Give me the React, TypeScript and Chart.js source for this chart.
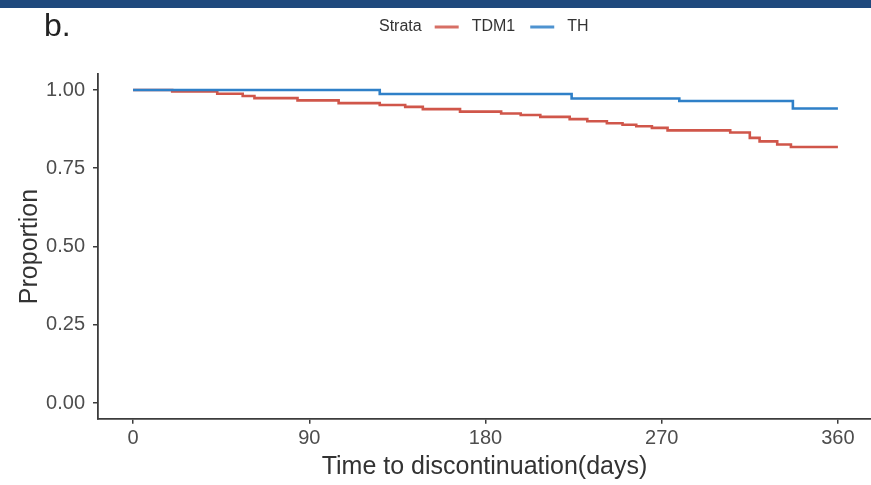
import React, { useEffect, useRef } from "react";
import { Chart, registerables } from "chart.js";

Chart.register(...registerables);

// ---- data ----
const xTickValues = [0, 90, 180, 270, 360];
const yTickValues = [0, 0.25, 0.5, 0.75, 1.0];
const strataNames = ["TDM1", "TH"];

const tdm1Days = [0, 20, 43, 56, 62, 84, 105, 126, 139, 148, 167, 188, 198, 208, 223, 232, 242, 250, 257, 265, 273, 305, 315, 320, 329, 336, 360];
const tdm1Prop = [1.0, 0.995, 0.988, 0.981, 0.974, 0.967, 0.958, 0.952, 0.946, 0.939, 0.931, 0.925, 0.92, 0.914, 0.907, 0.9, 0.894, 0.889, 0.884, 0.879, 0.871, 0.864, 0.847, 0.836, 0.826, 0.818, 0.818];

const thDays = [0, 126, 224, 279, 337, 360];
const thProp = [1.0, 0.987, 0.973, 0.965, 0.941, 0.941];

const FONT = '"Liberation Sans", Arial, Helvetica, sans-serif';
const RED = "#d0564a";
const BLUE = "#2f80c8";
const AXIS = "#3c3c3c";

const decorPlugin = {
  id: "decor",
  afterDraw(chart: any) {
    const ctx = chart.ctx as CanvasRenderingContext2D;
    ctx.save();
    // top band
    ctx.fillStyle = "#1f497d";
    ctx.fillRect(0, 0, chart.width, 8);
    // panel label
    ctx.fillStyle = "#222";
    ctx.font = `32px ${FONT}`;
    ctx.textAlign = "left";
    ctx.textBaseline = "alphabetic";
    ctx.fillText("b.", 44, 36);
    // legend
    ctx.font = `16px ${FONT}`;
    ctx.textBaseline = "middle";
    ctx.fillStyle = "#333";
    const y = 27;
    let x = 379;
    ctx.fillText("Strata", x, y);
    x += ctx.measureText("Strata").width + 13;
    const colors = [RED, BLUE];
    strataNames.forEach((name, i) => {
      ctx.strokeStyle = colors[i];
      ctx.globalAlpha = 0.85;
      ctx.lineWidth = 3;
      ctx.beginPath();
      ctx.moveTo(x, y);
      ctx.lineTo(x + 24, y);
      ctx.stroke();
      ctx.globalAlpha = 1;
      x += 24 + 13;
      ctx.fillStyle = "#333";
      ctx.fillText(name, x, y);
      x += ctx.measureText(name).width + 15;
    });
    ctx.restore();
  },
};

export default function App() {
  const ref = useRef<HTMLCanvasElement | null>(null);

  useEffect(() => {
    if (!ref.current) return;
    Chart.defaults.font.family = FONT;
    const chart = new Chart(ref.current, {
      type: "line",
      data: {
        datasets: [
          {
            label: strataNames[0],
            data: tdm1Days.map((d, i) => ({ x: d, y: tdm1Prop[i] })),
            borderColor: RED,
            borderWidth: 2.6,
            stepped: true,
            pointRadius: 0,
            fill: false,
            order: 1,
          },
          {
            label: strataNames[1],
            data: thDays.map((d, i) => ({ x: d, y: thProp[i] })),
            borderColor: BLUE,
            borderWidth: 2.6,
            stepped: true,
            pointRadius: 0,
            fill: false,
            order: 0,
          },
        ],
      },
      options: {
        animation: false,
        responsive: false,
        devicePixelRatio: 1,
        layout: { padding: { top: 74.35, left: 0, right: 0, bottom: 0 } },
        plugins: {
          legend: { display: false },
          tooltip: { enabled: false },
        },
        scales: {
          x: {
            type: "linear",
            min: -17.9,
            max: 376.9,
            afterBuildTicks: (s: any) => {
              s.ticks = xTickValues.map((v) => ({ value: v }));
            },
            afterFit: (s: any) => {
              s.height = 485 - 418.65;
            },
            ticks: {
              color: "#4d4d4d",
              font: { size: 20 },
              padding: 3,
              maxRotation: 0,
              autoSkip: false,
              callback: (v: any) => String(v),
            },
            grid: {
              drawOnChartArea: false,
              drawTicks: true,
              tickLength: 5,
              color: AXIS,
              lineWidth: 1.5,
            },
            border: { display: true, color: AXIS, width: 1.8 },
            title: {
              display: true,
              text: "Time to discontinuation(days)",
              color: "#333",
              font: { size: 25 },
              padding: { top: 0, bottom: 3 },
            },
          },
          y: {
            type: "linear",
            min: -0.05,
            max: 1.05,
            afterBuildTicks: (s: any) => {
              s.ticks = yTickValues.map((v) => ({ value: v }));
            },
            afterFit: (s: any) => {
              s.width = 98;
            },
            ticks: {
              color: "#4d4d4d",
              font: { size: 20 },
              padding: 8,
              autoSkip: false,
              callback: (v: any) => Number(v).toFixed(2),
            },
            grid: {
              drawOnChartArea: false,
              drawTicks: true,
              tickLength: 5,
              color: AXIS,
              lineWidth: 1.5,
            },
            border: { display: true, color: AXIS, width: 1.8 },
            title: {
              display: true,
              text: "Proportion",
              color: "#333",
              font: { size: 25 },
              padding: { top: 15, bottom: 0 },
            },
          },
        },
      },
      plugins: [decorPlugin],
    });
    return () => chart.destroy();
  }, []);

  return (
    <div style={{ position: "absolute", left: 0, top: 0, width: 871, height: 485, background: "#fff" }}>
      <canvas ref={ref} width={871} height={485} style={{ display: "block" }} />
    </div>
  );
}
